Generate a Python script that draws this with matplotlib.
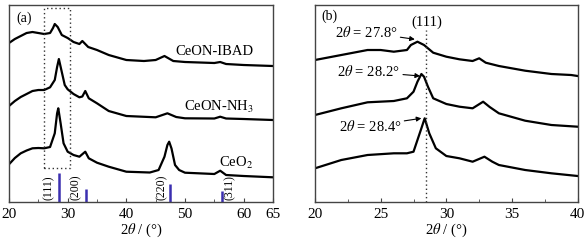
import matplotlib
matplotlib.use('Agg')
import matplotlib.pyplot as plt

# ---- panel (a) data (arbitrary intensity, offset stacked) ----
ibad_x = [20, 21, 22, 23, 24, 25, 26, 27, 27.5, 27.8, 28.3, 29, 30, 31, 32, 32.5, 33.5, 35, 37, 40, 43, 45, 46.5, 48, 50, 55, 56, 57, 60, 65]
ibad_y = [159, 163, 166, 169, 170, 169, 168, 169, 174, 178, 175, 167, 164, 160, 158, 161, 155, 152, 147, 142, 141, 142, 146, 141, 140, 139, 140, 138, 137, 136]

nh3_x = [20, 21, 22, 23, 24, 25, 26, 27, 27.8, 28.2, 28.5, 29, 29.5, 30, 31, 32, 32.5, 33, 33.6, 35, 37, 40, 45, 47, 48.5, 50, 55, 56, 57, 60, 65]
nh3_y = [96, 101, 105, 108, 111, 112, 112, 114.7, 122, 135, 143, 130, 117, 112.7, 108, 104.7, 105.5, 111, 103.7, 98.7, 91, 86, 84.7, 88.7, 85, 83.7, 83.5, 85.3, 83.5, 83, 82]

ceo2_x = [20, 21, 22, 23, 24, 25, 26, 27, 27.8, 28.2, 28.4, 28.8, 29.3, 30, 31, 32, 33, 33.6, 35, 37, 40, 44, 45.5, 46.5, 47, 47.3, 47.7, 48.3, 49, 50, 55, 56, 57, 60, 65]
ceo2_y = [37.7, 44, 48.7, 51.5, 53.7, 54, 53.7, 55, 68.7, 88.7, 93.7, 78.7, 58.7, 50.3, 47, 45.3, 50.3, 43.7, 39.3, 35.3, 30.3, 29.5, 32, 45.3, 57, 60.3, 53.5, 37, 32, 29.3, 28, 31.3, 27, 26, 24.7]

# reference pattern (CeO2) positions, heights, hkl
ref_pos = [28.5, 33.1, 47.5, 56.3]
ref_height = [28.7, 12.7, 17.7, 11]
ref_hkl = ['(111)', '(200)', '(220)', '(311)']
ref_label_x = [26.7, 31.4, 46.0, 57.7]

labels_a = ['CeON-IBAD', 'CeON-NH$_3$', 'CeO$_2$']

# ---- panel (b) data ----
b_top_x = [20, 22, 24, 25, 26, 27, 27.3, 27.8, 28.3, 29, 30, 31, 32, 32.5, 33, 34, 36, 38, 39.5, 40]
b_top_y = [142, 147, 152, 152, 150.3, 152, 157, 160.3, 157, 149.3, 145.3, 142.7, 141, 143.7, 139.3, 136, 131.3, 128, 127, 126]

b_mid_x = [20, 22, 24, 26, 27, 27.5, 27.8, 28.1, 28.3, 28.6, 29, 30, 31, 32, 32.8, 33.3, 34, 36, 38, 40]
b_mid_y = [87, 93.7, 99.7, 101, 103.7, 110.3, 120.3, 128, 125.3, 115.3, 103.7, 98, 95.3, 93.7, 100.3, 95, 88.7, 81.3, 77, 75.3]

b_bot_x = [20, 22, 24, 26, 27, 27.5, 27.8, 28.1, 28.35, 28.7, 29.2, 30, 31, 32, 32.9, 33.5, 34, 36, 38, 40]
b_bot_y = [33.7, 42, 47, 48.7, 48.7, 50.3, 62, 73.7, 83.7, 68.7, 53.7, 46, 43.7, 40.3, 45.3, 40.3, 37, 32, 28.7, 26]

peak_labels = ['2$\\theta$ = 27.8°', '2$\\theta$ = 28.2°', '2$\\theta$ = 28.4°']
peak_text_xy = [(23.9, 169.7), (24.1, 130.3), (24.2, 76)]
peak_tip_xy = [(27.6, 162.7), (28.0, 126), (28.1, 83.7)]

plt.rcParams['font.family'] = ['Liberation Serif', 'DejaVu Serif']
plt.rcParams['mathtext.fontset'] = 'stix'

frame_color = '#444444'
bar_color = '#3b2fb0'


def style_axes(ax):
    for s in ax.spines.values():
        s.set_color(frame_color)
        s.set_linewidth(1.0)
    ax.tick_params(axis='x', which='both', direction='in', colors=frame_color,
                   labelcolor='black', labelsize=11, pad=4)
    ax.tick_params(axis='x', which='major', length=3)
    ax.tick_params(axis='x', which='minor', length=2)
    ax.set_yticks([])
    ax.set_xlabel('2$\\theta$ / (°)', fontsize=10.5, labelpad=1)


fig = plt.figure(figsize=(5.88, 2.43), dpi=100)
ax_a = fig.add_axes([0.0153, 0.1687, 0.449, 0.8107])
ax_b = fig.add_axes([0.5357, 0.1687, 0.4468, 0.8107])

# panel (a)
for xs, ys in [(ibad_x, ibad_y), (nh3_x, nh3_y), (ceo2_x, ceo2_y)]:
    ax_a.plot(xs, ys, color='black', lw=1.6)
ax_a.vlines(ref_pos, 0, ref_height, colors=bar_color, lw=1.8)
for lx, t in zip(ref_label_x, ref_hkl):
    ax_a.text(lx, 2, t, rotation=90, ha='center', va='bottom', fontsize=8.5)
ax_a.plot([26.0, 26.0, 30.4, 30.4, 26.0], [33.7, 193.7, 193.7, 33.7, 33.7],
          ls=(0, (1, 2)), color='#333333', lw=1.0)
ax_a.text(55.1, 150.3, labels_a[0], ha='center', va='center', fontsize=10.5)
ax_a.text(55.8, 95, labels_a[1], ha='center', va='center', fontsize=10.5)
ax_a.text(58.7, 39, labels_a[2], ha='center', va='center', fontsize=10.5)
ax_a.text(21.2, 184, '(a)', ha='left', va='center', fontsize=10)
ax_a.set_xlim(20, 65)
ax_a.set_ylim(0, 197)
ax_a.set_xticks([20, 30, 40, 50, 60, 65])
ax_a.set_xticks([25, 35, 45, 55], minor=True)
style_axes(ax_a)

# panel (b)
for xs, ys in [(b_top_x, b_top_y), (b_mid_x, b_mid_y), (b_bot_x, b_bot_y)]:
    ax_b.plot(xs, ys, color='black', lw=1.6)
ax_b.plot([28.43, 28.43], [0, 172], ls=(0, (1, 2)), color='#333333', lw=1.0)
ax_b.text(28.5, 180, '(111)', ha='center', va='center', fontsize=10.5)
for t, txy, pxy in zip(peak_labels, peak_text_xy, peak_tip_xy):
    ax_b.annotate(t, xy=pxy, xytext=txy, ha='center', va='center', fontsize=10.5,
                  arrowprops=dict(arrowstyle='-|>', color='black', lw=0.8,
                                  mutation_scale=7, shrinkA=0, shrinkB=0))
ax_b.text(20.5, 186, '(b)', ha='left', va='center', fontsize=10)
ax_b.set_xlim(20, 40)
ax_b.set_ylim(0, 197)
ax_b.set_xticks([20, 25, 30, 35, 40])
ax_b.set_xticks([22.5, 27.5, 32.5, 37.5], minor=True)
style_axes(ax_b)

fig.savefig('out.png', dpi=100)
